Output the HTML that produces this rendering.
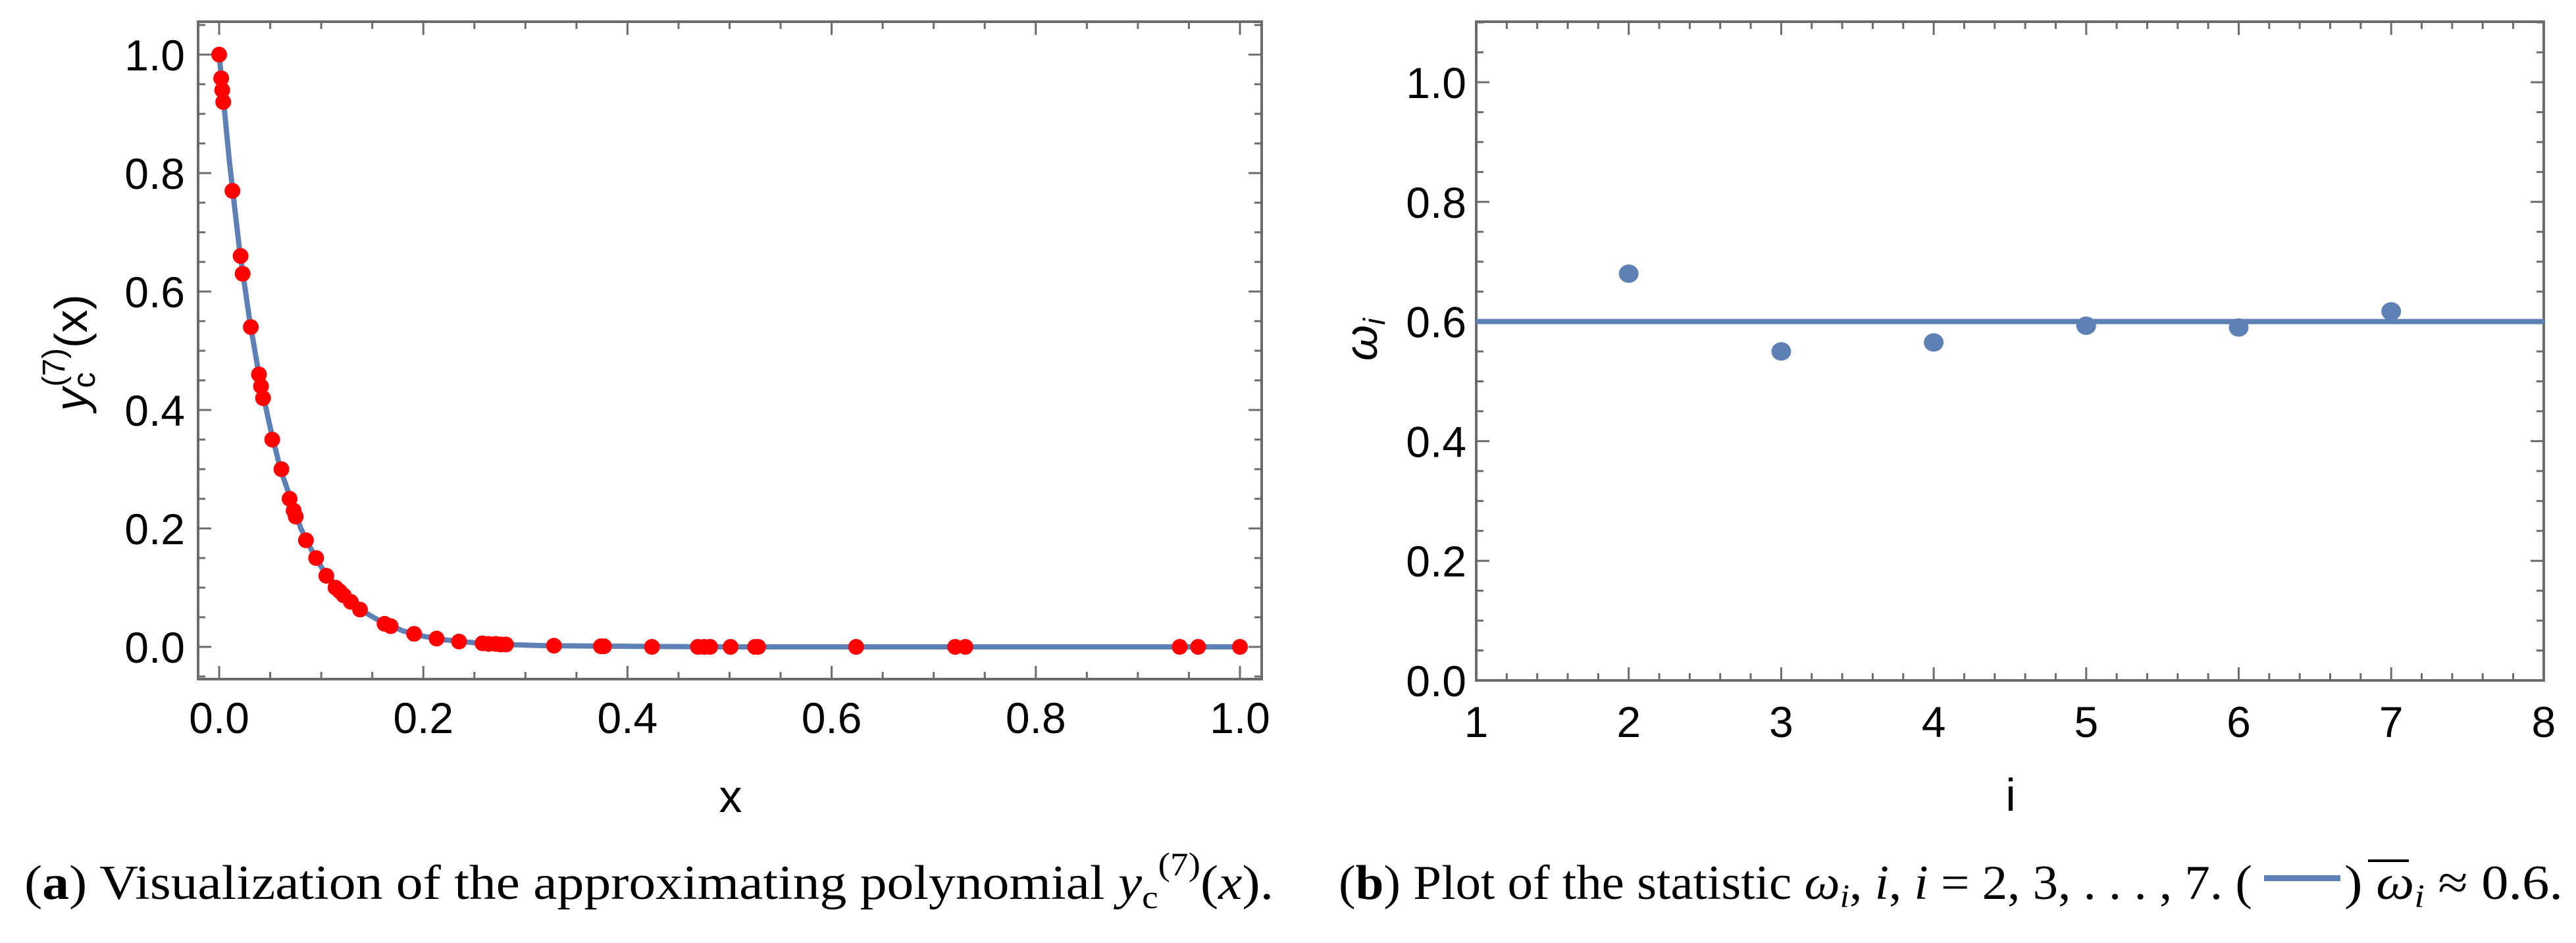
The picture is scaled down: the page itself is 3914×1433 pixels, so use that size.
<!DOCTYPE html>
<html><head><meta charset="utf-8"><style>
html,body{margin:0;padding:0;background:#fff;}
svg{display:block;}
text{font-family:"Liberation Sans",sans-serif;}
.serif{font-family:"Liberation Serif",serif;}
</style></head><body>
<svg id="fig" width="3914" height="1433" viewBox="0 0 3914 1433" xmlns="http://www.w3.org/2000/svg">
<g id="pa"></g>
<g id="pb"></g>
<text class="serif" x="37" y="1366" font-size="74" textLength="1898" lengthAdjust="spacingAndGlyphs">(<tspan font-weight="bold">a</tspan>) Visualization of the approximating polynomial <tspan font-style="italic">y</tspan><tspan font-size="50" dy="14">c</tspan><tspan font-size="50" dy="-50">(7)</tspan><tspan dy="36">(</tspan><tspan font-style="italic">x</tspan>).</text>
<text class="serif" x="2034" y="1366" font-size="74" textLength="1388" lengthAdjust="spacingAndGlyphs">(<tspan font-weight="bold">b</tspan>) Plot of the statistic <tspan font-style="italic">ω</tspan><tspan font-style="italic" font-size="50" dy="12">i</tspan><tspan dy="-12">, </tspan><tspan font-style="italic">i</tspan>, <tspan font-style="italic">i</tspan> = 2, 3, . . . , 7. (</text>
<rect x="3440" y="1330" width="116" height="9" fill="#5E81B5"/>
<text class="serif" x="3562" y="1366" font-size="74" textLength="332" lengthAdjust="spacingAndGlyphs">) <tspan font-style="italic">ω</tspan><tspan font-style="italic" font-size="50" dy="12">i</tspan><tspan dy="-12"> ≈ 0.6.</tspan></text>
<line x1="3598" y1="1308" x2="3660" y2="1308" stroke="#000" stroke-width="4"/>
</svg>
<script>
// ---- Panel A data ----
const curveX = [0,0.01,0.02,0.03,0.04,0.05,0.06,0.07,0.08,0.09,0.1,0.12,0.14,0.16,0.18,0.2,0.22,0.25,0.28,0.32,0.4,0.5,0.6,0.8,1.0];
const curveY = [1,0.82,0.67,0.55,0.45,0.37,0.30,0.25,0.20,0.165,0.135,0.091,0.061,0.041,0.027,0.018,0.012,0.007,0.004,0.002,0.001,0,0,0,0];
const sampleX = [0,0.002,0.003,0.004,0.013,0.021,0.023,0.031,0.039,0.041,0.043,0.052,0.061,0.069,0.073,0.075,0.085,0.095,0.105,0.114,0.118,0.122,0.129,0.138,0.162,0.168,0.191,0.213,0.235,0.258,0.264,0.271,0.276,0.281,0.328,0.374,0.377,0.424,0.469,0.475,0.481,0.501,0.525,0.528,0.624,0.721,0.731,0.941,0.959,1.0];
const sampleY = [1,0.96,0.94,0.92,0.77,0.66,0.63,0.54,0.46,0.44,0.42,0.35,0.30,0.25,0.23,0.22,0.18,0.15,0.12,0.10,0.094,0.087,0.076,0.063,0.039,0.035,0.022,0.014,0.009,0.006,0.005,0.005,0.004,0.004,0.002,0.001,0.001,0,0,0,0,0,0,0,0,0,0,0,0,0];
const aXTicks = ["0.0","0.2","0.4","0.6","0.8","1.0"];
const aYTicks = ["0.0","0.2","0.4","0.6","0.8","1.0"];
// ---- Panel B data ----
const bIdx = [2,3,4,5,6,7];
const bOmega = [0.68,0.55,0.565,0.593,0.59,0.617];
const bMean = [0.6];
const bXTicks = ["1","2","3","4","5","6","7","8"];
const bYTicks = ["0.0","0.2","0.4","0.6","0.8","1.0"];

const NS="http://www.w3.org/2000/svg";
function mk(parent,tag,attrs,txt){const e=document.createElementNS(NS,tag);for(const k in attrs)e.setAttribute(k,attrs[k]);if(txt!==undefined)e.textContent=txt;parent.appendChild(e);return e;}

function frame(g,x0,x1,y0,y1,name){
  const r=mk(g,'rect',{x:x0,y:y0,width:x1-x0,height:y1-y0,fill:'none',stroke:'#6b6b6b','stroke-width':4});
  
  
}
function tick(g,x1,y1,x2,y2){
  const t=mk(g,'line',{x1:x1,y1:y1,x2:x2,y2:y2,stroke:'#6b6b6b','stroke-width':3});
  
  
}

// ---------- Panel A ----------
(function(){
const g=document.getElementById('pa');
const L=301,R=1917,T=33,B=1032;
const X=v=>333+v*1551, Y=v=>983-v*900;
// minor ticks every 0.05, major every 0.2
for(let k=0;k<=20;k++){const v=k*0.05;const maj=(k%4===0);const len=maj?20:11;
  tick(g,X(v),B,X(v),B-len); tick(g,X(v),T,X(v),T+len);}
for(let k=-1;k<=21;k++){const v=k*0.05;const y=Y(v);if(y<T||y>B)continue;const maj=(k%4===0);const len=maj?20:11;
  tick(g,L,y,L+len,y); tick(g,R,y,R-len,y);}
frame(g,L,R,T,B,'panel-a-frame');
aXTicks.forEach(s=>{const t=mk(g,'text',{x:X(parseFloat(s)),y:1114,'font-size':66,'text-anchor':'middle'},s);
  
  });
aYTicks.forEach(s=>{const t=mk(g,'text',{x:281,y:Y(parseFloat(s))+24,'font-size':66,'text-anchor':'end'},s);
  
  });
const d=curveX.map((v,i)=>(i?'L':'M')+X(v).toFixed(1)+' '+Y(curveY[i]).toFixed(1)).join(' ');
const p=mk(g,'path',{d:d,fill:'none',stroke:'#5E81B5','stroke-width':8,'stroke-linejoin':'round'});


sampleX.forEach((v,i)=>{const c=mk(g,'circle',{cx:X(v),cy:Y(sampleY[i]),r:12,fill:'#ff0000'});
  
  });
const xt=mk(g,'text',{x:1110,y:1234,'font-size':70,'text-anchor':'middle'},'x');


const yt=mk(g,'text',{x:0,y:0,'font-size':70,'text-anchor':'middle',transform:'translate(132,536) rotate(-90)'});


mk(yt,'tspan',{'font-style':'italic'},'y');
mk(yt,'tspan',{'font-size':48,dy:12},'c');
mk(yt,'tspan',{'font-size':48,dy:-46,dx:-22},'(7)');
mk(yt,'tspan',{dy:34},'(x)');
})();

// ---------- Panel B ----------
(function(){
const g=document.getElementById('pb');
const L=2243,R=3865,T=33,B=1034;
const X=v=>2243+(v-1)*231.7, Y=v=>1034-v*909;
for(let k=0;k<=35;k++){const v=1+k*0.2;const maj=(k%5===0);const len=maj?20:11;
  tick(g,X(v),B,X(v),B-len); tick(g,X(v),T,X(v),T+len);}
for(let k=0;k<=22;k++){const v=k*0.05;const y=Y(v);if(y<T)continue;const maj=(k%4===0);const len=maj?20:11;
  tick(g,L,y,L+len,y); tick(g,R,y,R-len,y);}
frame(g,L,R,T,B,'panel-b-frame');
bXTicks.forEach(s=>{const t=mk(g,'text',{x:X(parseFloat(s)),y:1120,'font-size':66,'text-anchor':'middle'},s);
  
  });
bYTicks.forEach(s=>{const t=mk(g,'text',{x:2228,y:Y(parseFloat(s))+24,'font-size':66,'text-anchor':'end'},s);
  
  });
const ml=mk(g,'line',{x1:L,x2:R,y1:Y(bMean[0]),y2:Y(bMean[0]),stroke:'#5E81B5','stroke-width':8});


bIdx.forEach((v,i)=>{const c=mk(g,'ellipse',{cx:X(v),cy:Y(bOmega[i]),rx:15,ry:14,fill:'#5E81B5'});
  
  });
const xt=mk(g,'text',{x:3055,y:1232,'font-size':70,'text-anchor':'middle'},'i');


const yt=mk(g,'text',{x:0,y:0,'font-size':70,'text-anchor':'middle','font-style':'italic',transform:'translate(2092,516) rotate(-90)'});


mk(yt,'tspan',{},'ω');
mk(yt,'tspan',{'font-size':46,dy:12},'i');
})();
</script>
</body></html>
